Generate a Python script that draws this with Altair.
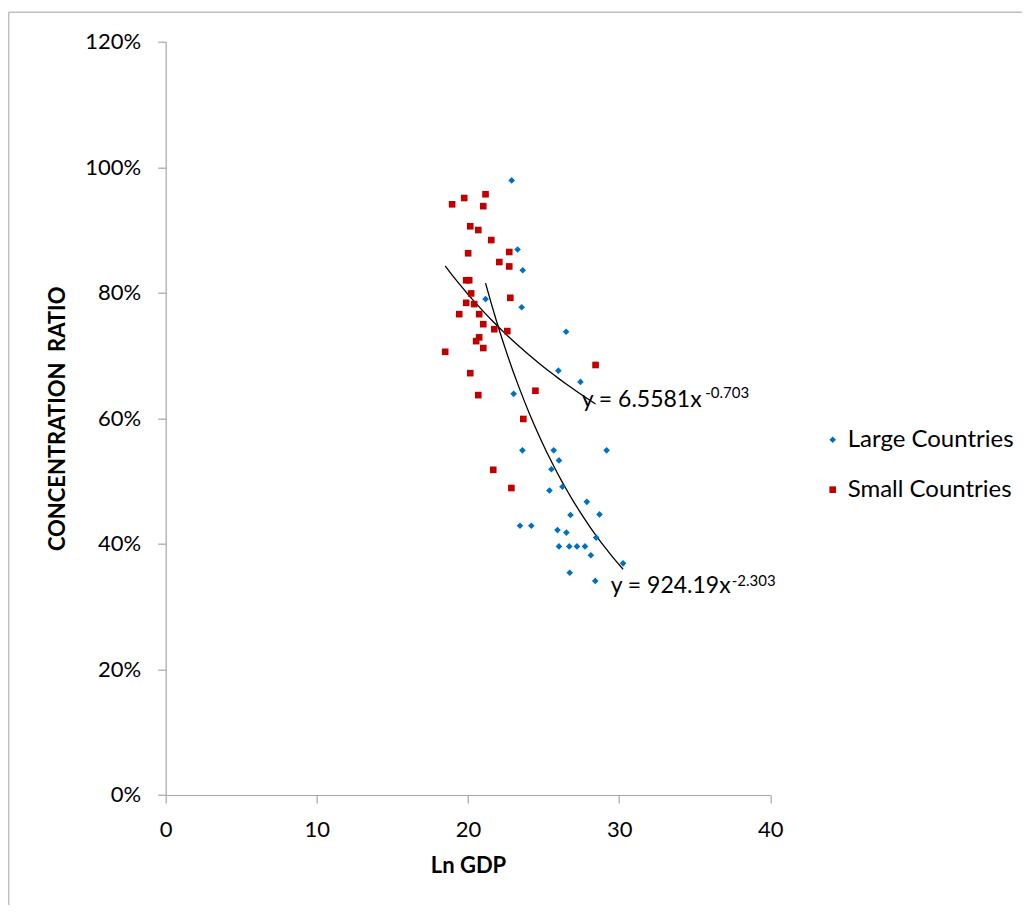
import altair as alt
import pandas as pd

# ---- data ----
groups = ["Large Countries", "Small Countries"]

large_x = [22.89, 23.28, 23.62, 21.16, 23.55, 26.49, 25.98, 27.44, 23.02, 23.60,
           25.67, 29.17, 26.02, 25.52, 26.25, 25.39, 27.86, 26.78, 28.70, 23.44,
           24.19, 25.92, 26.51, 28.48, 26.02, 26.70, 27.21, 27.74, 28.13, 30.26,
           26.73, 28.42]
large_y = [97.9, 86.9, 83.6, 79.0, 77.7, 73.8, 67.6, 65.8, 63.9, 54.9,
           54.9, 54.9, 53.3, 51.9, 49.1, 48.5, 46.7, 44.6, 44.7, 42.9,
           42.9, 42.2, 41.8, 41.0, 39.6, 39.6, 39.6, 39.6, 38.2, 36.9,
           35.4, 34.1]

small_x = [19.75, 21.16, 18.95, 21.01, 20.15, 20.68, 21.54, 20.01, 22.73, 22.07,
           22.73, 19.88, 20.08, 20.21, 22.80, 19.88, 20.41, 19.42, 20.74, 21.01,
           21.74, 22.60, 20.74, 20.54, 21.01, 18.49, 20.15, 28.44, 24.46, 20.68,
           23.66, 21.67, 22.87]
small_y = [95.1, 95.7, 94.1, 93.8, 90.6, 90.0, 88.4, 86.3, 86.5, 84.9,
           84.2, 82.0, 82.0, 79.9, 79.2, 78.4, 78.2, 76.6, 76.6, 75.0,
           74.2, 73.9, 72.9, 72.3, 71.2, 70.6, 67.2, 68.5, 64.4, 63.7,
           59.9, 51.8, 48.9]

x_ticks = [0, 10, 20, 30, 40]
y_ticks = [0, 0.2, 0.4, 0.6, 0.8, 1.0, 1.2]

eq_main = ["y = 6.5581x", "y = 924.19x"]
eq_main_x = [27.52, 29.44]
eq_main_y = [0.6186, 0.3223]
eq_sup = ["-0.703", "-2.303"]
eq_sup_x = [35.70, 37.45]
eq_sup_y = [0.6319, 0.3329]

df = pd.DataFrame({
    "lngdp": large_x + small_x,
    "ratio": [v / 100 for v in large_y + small_y],
    "group": [groups[0]] * len(large_x) + [groups[1]] * len(small_x),
})
eq_df = pd.DataFrame({"text": eq_main, "x": eq_main_x, "y": eq_main_y})
sup_df = pd.DataFrame({"text": eq_sup, "x": eq_sup_x, "y": eq_sup_y})
frame_df = pd.DataFrame({"k": [0]})

W, H = 604.6, 753.3
FONT = "Lato"

x_scale = alt.Scale(domain=[0, 40], nice=False, zero=False)
y_scale = alt.Scale(domain=[0, 1.2], nice=False)

x_axis = alt.Axis(values=x_ticks, title="Ln GDP", format="d", titleY=71,
                  titleBaseline="middle", labelFlush=False)
y_axis = alt.Axis(values=y_ticks, format=".0%", title="CONCENTRATION\u00a0 RATIO",
                  titleX=-108, titleY=H / 2, titleAngle=270, titleAlign="center",
                  titleBaseline="middle", labelFlush=False)

legend = alt.Legend(title=None, orient="none", legendX=655, legendY=386,
                    labelFont=FONT, labelFontSize=24, labelColor="black",
                    labelLimit=400,
                    symbolSize=44, rowPadding=26, labelOffset=3, padding=0,
                    symbolStrokeWidth=0)

points = alt.Chart(df).mark_point(filled=True, opacity=1, size=44, strokeWidth=0).encode(
    x=alt.X("lngdp:Q", scale=x_scale, axis=x_axis),
    y=alt.Y("ratio:Q", scale=y_scale, axis=y_axis),
    color=alt.Color("group:N", scale=alt.Scale(domain=groups, range=["#0070C0", "#C00000"]),
                    legend=legend),
    shape=alt.Shape("group:N", scale=alt.Scale(domain=groups, range=["diamond", "square"]),
                    legend=legend),
)

trend = alt.Chart(df).transform_regression(
    "lngdp", "ratio", method="pow", groupby=["group"]
).mark_line(color="black", strokeWidth=1.3).encode(
    x=alt.X("lngdp:Q", scale=x_scale),
    y=alt.Y("ratio:Q", scale=y_scale),
    detail="group:N",
)

eq_text = alt.Chart(eq_df).mark_text(
    font=FONT, fontSize=23, align="left", baseline="alphabetic", color="black"
).encode(x=alt.X("x:Q", scale=x_scale), y=alt.Y("y:Q", scale=y_scale), text="text:N")

sup_text = alt.Chart(sup_df).mark_text(
    font=FONT, fontSize=15, align="left", baseline="alphabetic", color="black"
).encode(x=alt.X("x:Q", scale=x_scale), y=alt.Y("y:Q", scale=y_scale), text="text:N")

frame_left = alt.Chart(frame_df).mark_rule(color="#bfbfbf", strokeWidth=1.5).encode(
    x=alt.value(-157.0), y=alt.value(-29.5), y2=alt.value(H + 300)
)
frame_top = alt.Chart(frame_df).mark_rule(color="#bfbfbf", strokeWidth=1.5).encode(
    x=alt.value(-157.0), x2=alt.value(W + 500), y=alt.value(-29.5)
)

chart = alt.layer(frame_left, frame_top, trend, points, eq_text, sup_text).properties(
    width=W, height=H,
    autosize=alt.AutoSizeParams(type="none"),
    padding={"left": 157.7, "top": 33.7, "right": 252, "bottom": 110},
).configure_view(stroke=None).configure_axis(
    grid=False, domainColor="#a6a6a6", tickColor="#a6a6a6", domainWidth=1.2,
    tickWidth=1.2, tickSize=8, labelFont=FONT, labelFontSize=22, labelColor="black",
    labelPadding=17, titleFont=FONT, titleFontSize=22, titleFontWeight="bold",
    titleColor="black",
)

chart.save("out.html", embed_options={"renderer": "svg", "actions": False})
